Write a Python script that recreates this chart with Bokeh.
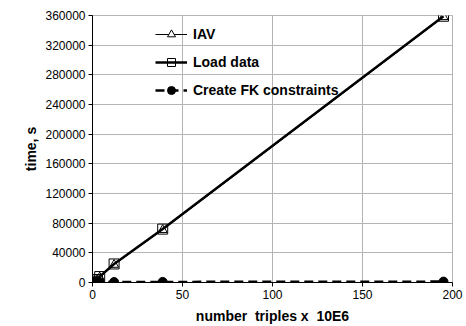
from bokeh.plotting import figure
from bokeh.models import FixedTicker, BasicTickFormatter, Range1d
from bokeh.embed import file_html
from bokeh.resources import INLINE

# data
triples = [1, 2.7, 4, 12, 39, 195]
iav = [1500, 3500, 7000, 24000, 71000, 358000]
load_data = [1800, 4000, 8000, 25000, 72000, 359000]
create_fk = [300, 400, 500, 600, 800, 1200]

x_ticks = [0, 50, 100, 150, 200]
y_ticks = [0, 40000, 80000, 120000, 160000, 200000, 240000, 280000, 320000, 360000]

FONT = "Liberation Sans"

p = figure(width=464, height=326, output_backend="svg", toolbar_location=None,
           x_range=Range1d(0, 200), y_range=Range1d(0, 360000),
           min_border_left=92, min_border_right=12, min_border_top=15, min_border_bottom=44)

p.line(triples, iav, line_color="black", line_width=1, legend_label="IAV")
p.scatter(triples, iav, marker="triangle", size=9, fill_color="white", line_color="black",
          line_width=1, legend_label="IAV")

p.line(triples, load_data, line_color="black", line_width=2.5, legend_label="Load data")
p.scatter(triples, load_data, marker="square", size=10, fill_color=None, line_color="black",
          line_width=1, legend_label="Load data")

p.line(triples, create_fk, line_color="black", line_width=2.5, line_dash="9 5",
       legend_label="Create FK constraints")
p.scatter(triples, create_fk, marker="circle", size=9, fill_color="black", line_color="black",
          legend_label="Create FK constraints")

# axes
p.xaxis.ticker = FixedTicker(ticks=x_ticks)
p.yaxis.ticker = FixedTicker(ticks=y_ticks)
p.yaxis.formatter = BasicTickFormatter(use_scientific=False)
for ax in (p.xaxis, p.yaxis):
    ax.axis_line_color = "black"
    ax.axis_line_width = 1
    ax.major_tick_line_color = "black"
    ax.major_tick_in = 0
    ax.major_tick_out = 4
    ax.minor_tick_line_color = None
    ax.major_label_text_font = FONT
    ax.major_label_text_font_size = "12px"
    ax.major_label_text_color = "black"
    ax.axis_label_text_font = FONT
    ax.axis_label_text_font_size = "14px"
    ax.axis_label_text_font_style = "bold"
    ax.axis_label_text_color = "black"
    ax.major_label_standoff = 3
    ax.axis_label_standoff = 3
p.xaxis.axis_label_standoff = 6

p.xaxis.axis_label = "number\u00a0\u00a0triples x\u00a0\u00a010E6"
p.yaxis.axis_label = "time, s"

p.grid.grid_line_color = "#b4b4b4"
p.grid.grid_line_width = 1
p.outline_line_color = "#b4b4b4"
p.background_fill_color = "white"
p.border_fill_color = "white"

leg = p.legend[0]
leg.location = (63, 182)
leg.background_fill_alpha = 0
leg.border_line_alpha = 0
leg.padding = 0
leg.margin = 0
leg.spacing = 8
leg.glyph_width = 32
leg.glyph_height = 20
leg.label_height = 20
leg.label_standoff = 6
leg.label_text_font = FONT
leg.label_text_font_size = "14px"
leg.label_text_font_style = "bold"
leg.label_text_color = "black"

open("out.html", "w").write(file_html(p, INLINE))
